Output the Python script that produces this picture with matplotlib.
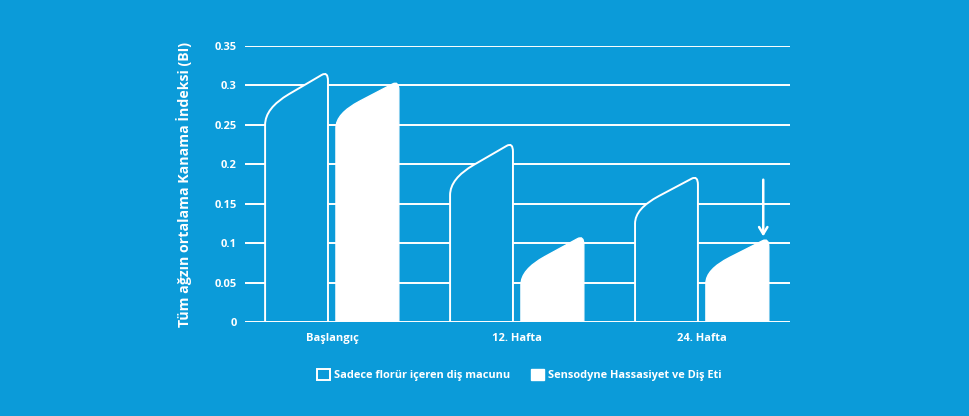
import numpy as np
import matplotlib
matplotlib.use('Agg')
import matplotlib.pyplot as plt
from matplotlib.path import Path
from matplotlib.patches import PathPatch, Patch

# data
categories = ['Başlangıç', '12. Hafta', '24. Hafta']
fluoride_only = [0.315, 0.225, 0.183]
sensodyne = [0.303, 0.107, 0.104]
fluoride_shoulder = [0.250, 0.161, 0.125]
sensodyne_shoulder = [0.246, 0.047, 0.049]
yticks = [0, 0.05, 0.1, 0.15, 0.2, 0.25, 0.3, 0.35]
ytick_labels = ['0', '0.05', '0.1', '0.15', '0.2', '0.25', '0.3', '0.35']
series_names = ['Sadece florür içeren diş macunu', 'Sensodyne Hassasiyet ve Diş Eti']

bg = '#0b9bd9'
plt.rcParams['font.family'] = ['Open Sans', 'DejaVu Sans']


def tube_path(x0, x1, low, top):
    # bar with a rounded shoulder rising to a rounded top-right corner
    w = x1 - x0
    d = top - low
    tc = top + 0.003
    xs, ys = x0 + 0.38 * w, low + 0.6 * d
    slope = (tc - ys) / (x1 - xs)
    ctrl_y = ys - slope * (xs - x0)
    r = 0.1 * w
    verts = [
        (x0, 0), (x0, low),
        (x0, ctrl_y), (xs, ys),
        (x1 - r, tc - slope * r),
        (x1, tc), (x1, tc - 0.012),
        (x1, 0), (x0, 0),
    ]
    codes = [Path.MOVETO, Path.LINETO,
             Path.CURVE3, Path.CURVE3,
             Path.LINETO,
             Path.CURVE3, Path.CURVE3,
             Path.LINETO, Path.CLOSEPOLY]
    return Path(verts, codes)


fig = plt.figure(figsize=(9.7, 4.16), dpi=100)
fig.patch.set_facecolor(bg)
ax = fig.add_axes([0.2526, 0.226, 0.8144 - 0.2526, 0.8894 - 0.226])
ax.set_facecolor(bg)

bar_w = 0.34
gap = 0.0215
x = np.arange(len(categories))

for yv in yticks:
    ax.axhline(yv, color='white', lw=1.4, zorder=1)

for i in x:
    p1 = tube_path(i - gap - bar_w, i - gap, fluoride_shoulder[i], fluoride_only[i])
    ax.add_patch(PathPatch(p1, facecolor=bg, edgecolor='white', lw=1.4, zorder=3))
    p2 = tube_path(i + gap, i + gap + bar_w, sensodyne_shoulder[i], sensodyne[i])
    ax.add_patch(PathPatch(p2, facecolor='white', edgecolor='white', lw=1, zorder=3))

# arrow over the last bar
ax.annotate('', xy=(x[-1] + gap + bar_w - 0.03, sensodyne[-1] + 0.001),
            xytext=(x[-1] + gap + bar_w - 0.03, 0.184),
            arrowprops=dict(arrowstyle='->,head_length=0.5,head_width=0.3',
                            color='white', lw=1.8), zorder=4)

ax.set_xlim(-0.47, 2.476)
ax.set_ylim(0, 0.35)
for s in ax.spines.values():
    s.set_visible(False)
ax.set_yticks(yticks)
ax.set_yticklabels(ytick_labels, color='white', fontsize=8, fontweight='bold')
ax.set_xticks(x)
ax.set_xticklabels(categories, color='white', fontsize=8, fontweight='bold')
ax.tick_params(length=0)
ax.tick_params(axis='y', pad=6)
ax.tick_params(axis='x', pad=8)
ax.set_ylabel('Tüm ağzın ortalama Kanama İndeksi (BI)', color='white',
              fontsize=10.2, fontweight='bold')
ax.yaxis.set_label_coords(-0.097, 0.5)

handles = [Patch(facecolor=bg, edgecolor='white', lw=1.4),
           Patch(facecolor='white', edgecolor='white')]
leg = fig.legend(handles, series_names, loc='center', bbox_to_anchor=(0.5356, 0.0986),
                 ncol=2, frameon=False, fontsize=7.9, handlelength=1.15, handleheight=1.15,
                 handletextpad=0.4, columnspacing=1.9)
for t in leg.get_texts():
    t.set_color('white')
    t.set_fontweight('bold')

plt.savefig('out.png', facecolor=fig.get_facecolor(), dpi=100)
